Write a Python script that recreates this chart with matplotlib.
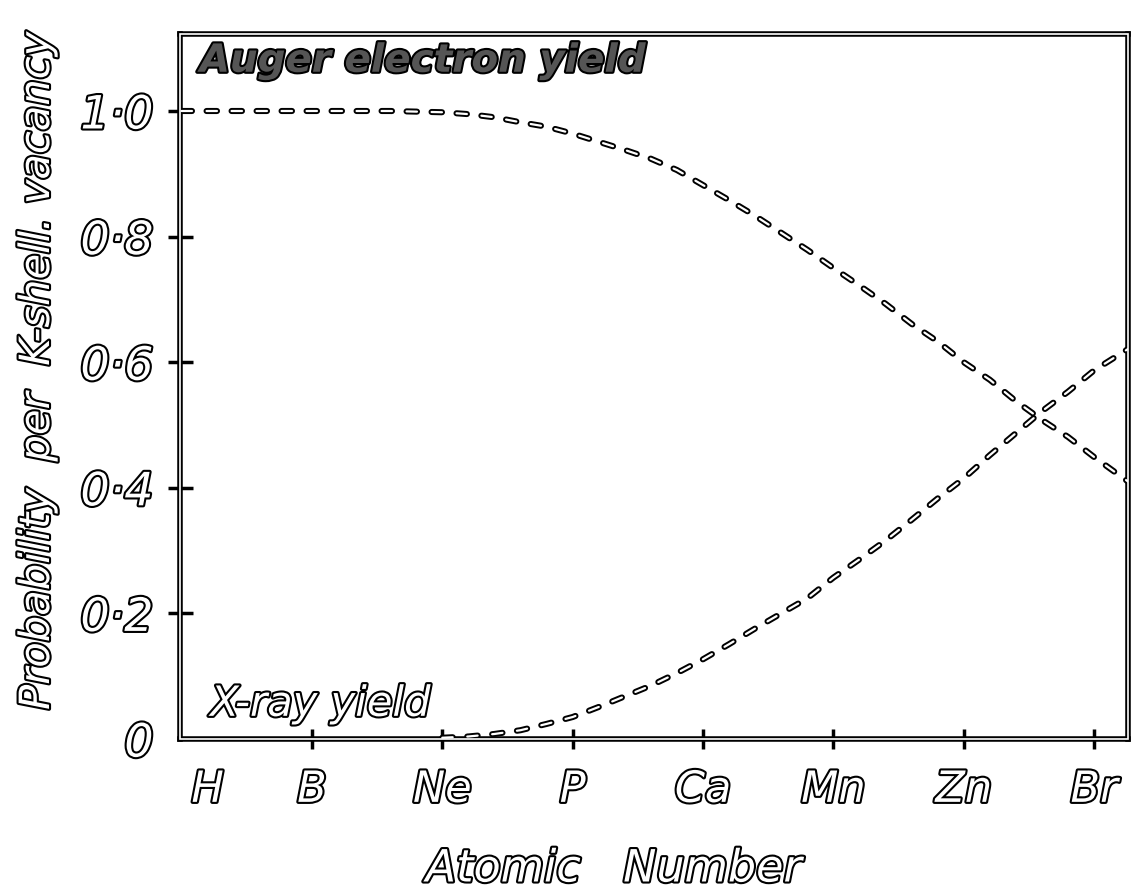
import matplotlib.pyplot as plt
import matplotlib.patheffects as pe
from matplotlib.patches import Rectangle

plt.rcParams['font.family'] = 'DejaVu Sans'
plt.rcParams['font.style'] = 'oblique'
plt.rcParams['lines.scale_dashes'] = False

# element labels on the atomic number axis
elements = ["H", "B", "Ne", "P", "Ca", "Mn", "Zn", "Br"]
element_z = [1, 5, 10, 15, 20, 25, 30, 35]

y_ticks = [0, 0.2, 0.4, 0.6, 0.8, 1.0]
y_tick_labels = ["0", "0·2", "0·4", "0·6", "0·8", "1·0"]

# K-shell fluorescence (X-ray) yield
xray_z = [10, 11, 12, 13, 14, 15, 16, 17, 18, 19, 20, 21, 22, 23, 24, 25,
          26, 27, 28, 29, 30, 31, 32, 33, 34, 35, 36.3]
xray_yield = [0.002, 0.004, 0.008, 0.014, 0.024, 0.035, 0.051, 0.068, 0.085,
              0.105, 0.127, 0.151, 0.176, 0.200, 0.224, 0.257, 0.286, 0.316,
              0.349, 0.383, 0.415, 0.452, 0.487, 0.522, 0.553, 0.587, 0.621]

# Auger electron yield
auger_z = [0, 2, 4, 6, 8, 10, 11, 12, 13, 14, 15, 16, 17, 18, 19, 20, 21, 22,
           23, 24, 25, 26, 27, 28, 29, 30, 31, 32, 33, 34, 35, 36.3]
auger_yield = [1.0, 1.0, 1.0, 1.0, 1.0, 0.998, 0.995, 0.990, 0.982, 0.975,
               0.964, 0.951, 0.938, 0.924, 0.906, 0.882, 0.858, 0.833, 0.806,
               0.779, 0.750, 0.722, 0.693, 0.661, 0.633, 0.600, 0.572, 0.538,
               0.508, 0.481, 0.449, 0.410]

outline = [pe.Stroke(linewidth=3, foreground="black"), pe.Normal()]


def hollow_dashed(ax, x, y):
    # black dash with a thin white core gives an outlined dash
    ax.plot(x, y, color="black", lw=4.4, linestyle=(0, (7.5, 10.5)),
            dash_capstyle="round", zorder=4)
    ax.plot(x, y, color="white", lw=1.6, linestyle=(0, (7.5, 10.5)),
            dash_capstyle="round", zorder=5)


fig = plt.figure(figsize=(11.37, 8.95), dpi=100)
ax = fig.add_axes([180 / 1137, 155 / 895, 948 / 1137, 705 / 895])

hollow_dashed(ax, auger_z, auger_yield)
hollow_dashed(ax, xray_z, xray_yield)

ax.set_xlim(-0.06, 36.3)
ax.set_ylim(0, 1.1226)

# double-line frame
for sp in ax.spines.values():
    sp.set_linewidth(4)
ax.add_patch(Rectangle((0, 0), 1, 1, transform=ax.transAxes, fill=False,
                       ec="white", lw=1.2, clip_on=False, zorder=6))

ax.set_xticks(element_z)
ax.set_xticklabels(elements)
ax.set_yticks(y_ticks)
ax.set_yticklabels(y_tick_labels)
ax.tick_params(axis="x", direction="inout", length=15, width=2.5, pad=14,
               labelsize=31)
ax.tick_params(axis="y", direction="inout", length=18, width=2.5, pad=10,
               labelsize=33)
ax.xaxis.get_major_ticks()[0].tick1line.set_visible(False)
ax.yaxis.get_major_ticks()[0].tick1line.set_visible(False)
for lab in ax.get_xticklabels() + ax.get_yticklabels():
    lab.set_color("white")
    lab.set_path_effects(outline)

ax.text(0.7, 1.08, "Auger electron yield", fontsize=28, fontweight="bold",
        color="#555555", va="center", ha="left", path_effects=outline)
ax.text(1.1, 0.056, "X-ray yield", fontsize=30, color="white",
        va="center", ha="left", path_effects=outline)

fig.text(614 / 1137, 1 - 870 / 895, "Atomic   Number", fontsize=32,
         color="white", ha="center", va="center", path_effects=outline)
fig.text(37 / 1137, 1 - 372 / 895, "Probability  per  K-shell. vacancy",
         fontsize=30, color="white", rotation=90, ha="center", va="center",
         path_effects=outline)

fig.savefig("out.png", dpi=100)
